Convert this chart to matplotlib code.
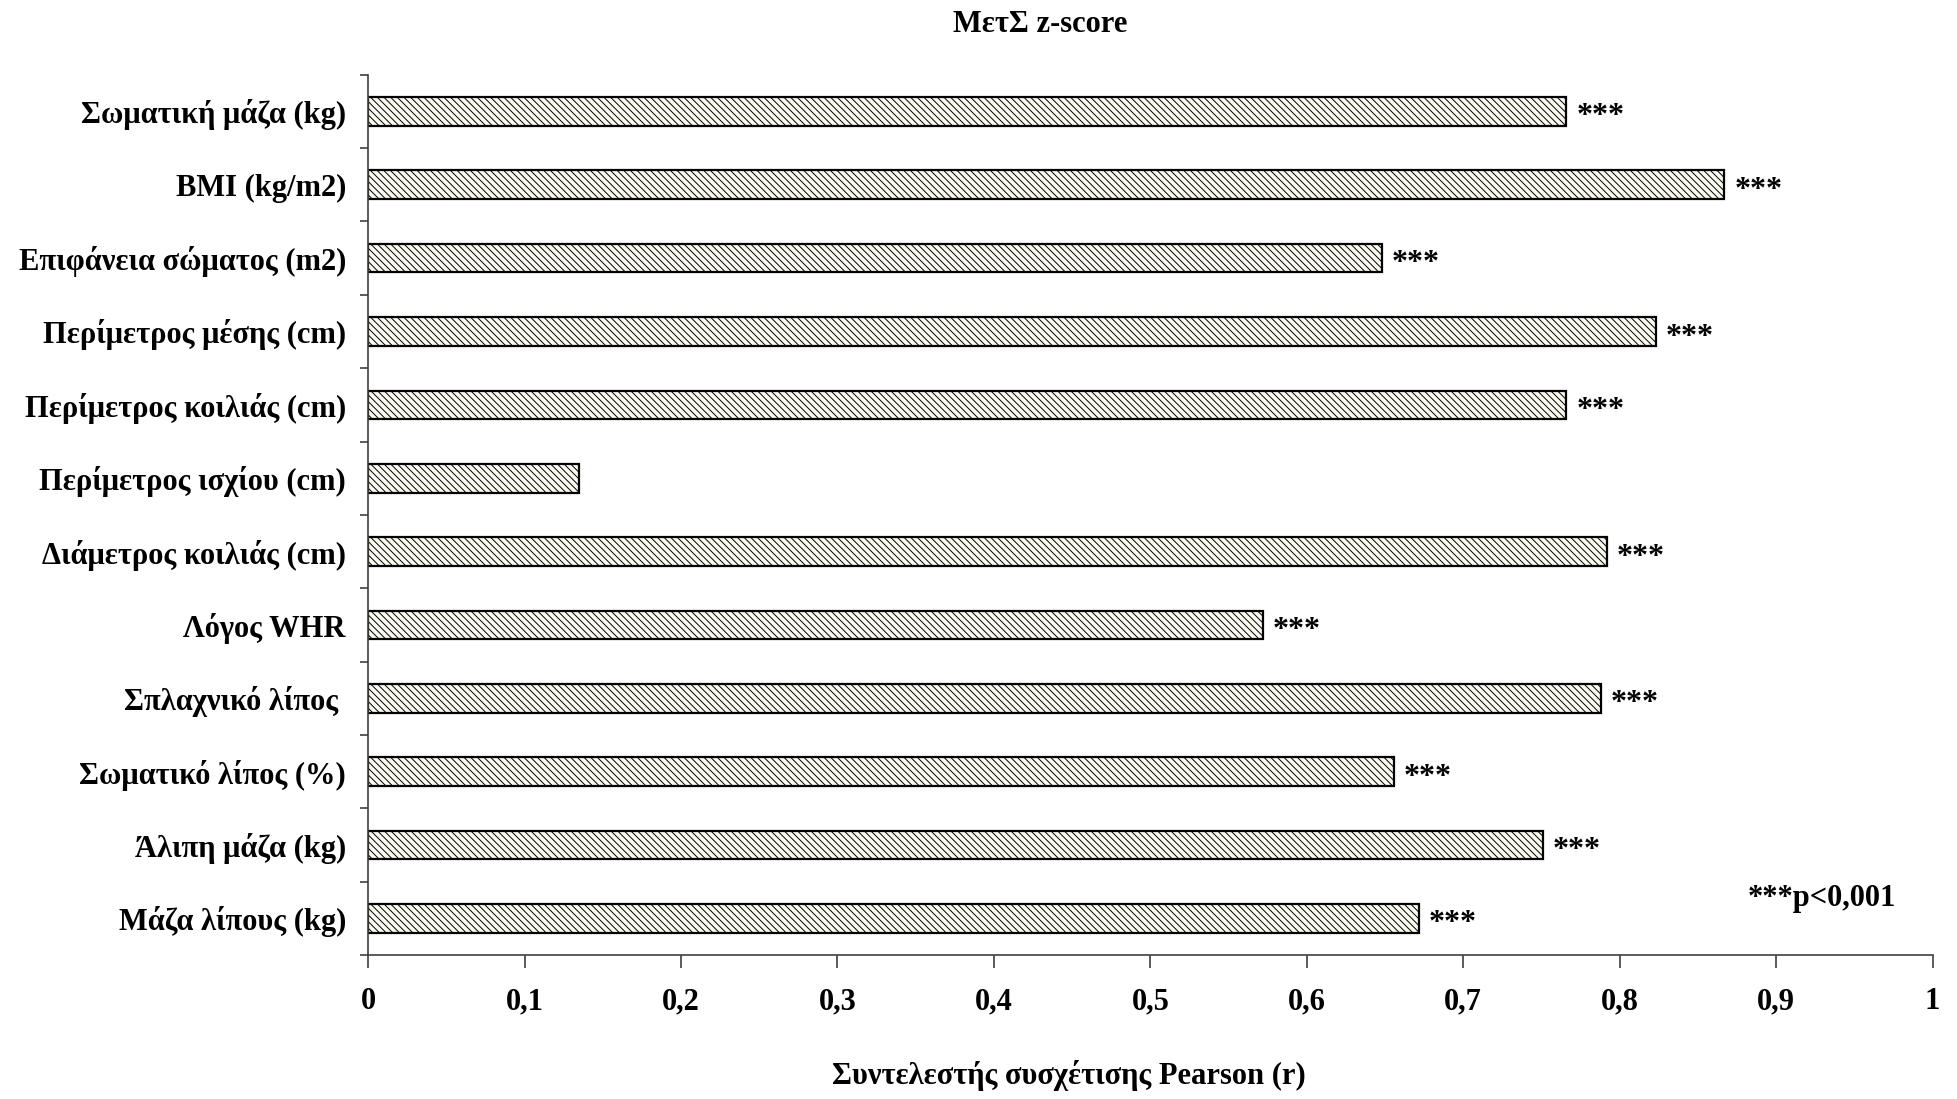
import numpy as np
import matplotlib
matplotlib.use('Agg')
import matplotlib.pyplot as plt
from matplotlib.ticker import FixedLocator

plt.rcParams['font.family'] = ['Liberation Serif', 'DejaVu Serif']
plt.rcParams['font.weight'] = 'bold'
plt.rcParams['hatch.linewidth'] = 0.7
plt.rcParams['hatch.color'] = '#3d3d14'

# data (top to bottom as in the chart)
labels = ['Σωματική μάζα (kg)', 'BMI (kg/m2)', 'Επιφάνεια σώματος (m2)',
          'Περίμετρος μέσης (cm)', 'Περίμετρος κοιλιάς (cm)',
          'Περίμετρος ισχίου (cm)', 'Διάμετρος κοιλιάς (cm)', 'Λόγος WHR',
          'Σπλαχνικό λίπος ', 'Σωματικό λίπος (%)', 'Άλιπη μάζα (kg)',
          'Μάζα λίπους (kg)']
r_values = [0.766, 0.867, 0.648, 0.823, 0.766, 0.135, 0.792, 0.572,
            0.788, 0.656, 0.751, 0.672]
signif = ['***', '***', '***', '***', '***', '', '***', '***',
          '***', '***', '***', '***']
xticks = [0, 0.1, 0.2, 0.3, 0.4, 0.5, 0.6, 0.7, 0.8, 0.9, 1]
xticklabels = ['0', '0,1', '0,2', '0,3', '0,4', '0,5', '0,6', '0,7',
               '0,8', '0,9', '1']

fig = plt.figure(figsize=(19.58, 10.99), dpi=100)
ax = fig.add_axes([0.188, 0.131, 0.799, 0.801])

n = len(labels)
ypos = np.arange(n)[::-1]
ax.barh(ypos, r_values, height=0.39, facecolor='#fafaf0', edgecolor='black',
        linewidth=1.6, hatch='\\\\\\\\\\')

for y, v, s in zip(ypos, r_values, signif):
    if s:
        ax.annotate(s, (v, y), xytext=(7, -4), textcoords='offset points',
                    ha='left', va='center', fontsize=23, fontweight='bold')

ax.set_xlim(0, 1)
ax.set_ylim(-0.5, n - 0.5)
ax.set_xticks(xticks)
ax.set_xticklabels(xticklabels)
ax.set_yticks(ypos)
ax.set_yticklabels(labels)
ax.yaxis.set_minor_locator(FixedLocator(np.arange(-0.5, n, 1.0)))

ax.tick_params(axis='y', which='major', length=0, pad=16, labelsize=22)
ax.tick_params(axis='y', which='minor', length=6, width=1.2, color='#404040')
ax.tick_params(axis='x', which='major', length=9, width=1.2, pad=14,
               labelsize=22, color='#404040')

for side in ['top', 'right']:
    ax.spines[side].set_visible(False)
for side in ['left', 'bottom']:
    ax.spines[side].set_color('#404040')
    ax.spines[side].set_linewidth(1.2)

ax.text(0.929, 0.064, '***p<0,001', transform=ax.transAxes, ha='center',
        va='center', fontsize=22, fontweight='bold')

fig.text(0.531, 0.978, 'ΜετΣ z-score', ha='center', va='center',
         fontsize=22, fontweight='bold')
fig.text(0.546, 0.021, 'Συντελεστής συσχέτισης Pearson (r)', ha='center',
         va='center', fontsize=22, fontweight='bold')

fig.savefig('out.png', dpi=100)
